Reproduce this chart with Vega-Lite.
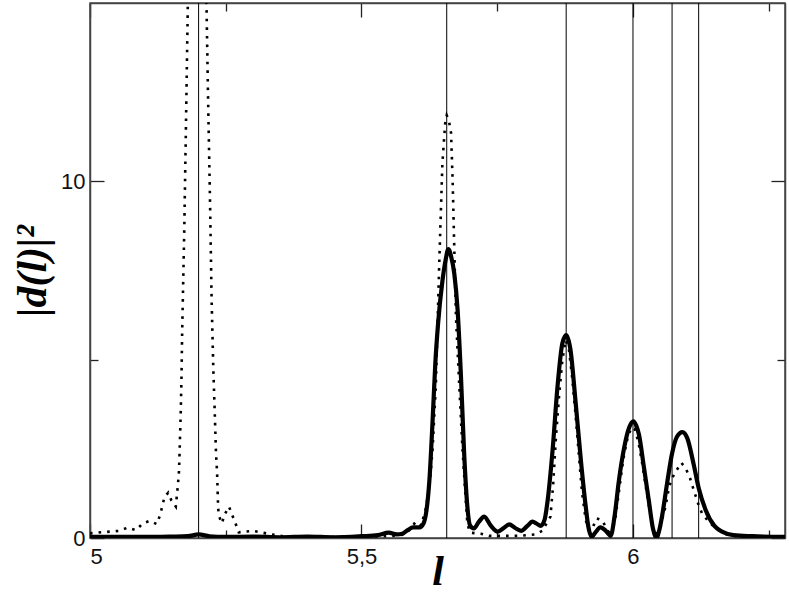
{
  "$schema": "https://vega.github.io/schema/vega-lite/v6.json",
  "width": 695,
  "height": 535,
  "autosize": {"type": "none"},
  "padding": {"left": 90, "top": 3, "right": 4, "bottom": 65},
  "background": "white",
  "config": {
    "view": {"stroke": "#444", "strokeWidth": 1.5},
    "axis": {
      "grid": false,
      "domainColor": "#444",
      "domainWidth": 1.5,
      "tickColor": "#222",
      "tickWidth": 1.3,
      "labelFont": "Liberation Sans",
      "labelFontSize": 22,
      "labelColor": "#111",
      "titleFont": "Liberation Serif",
      "titleFontStyle": "italic",
      "titleFontWeight": "bold",
      "titleColor": "#000"
    }
  },
  "datasets": {
    "solid": [
      {"l": 5.0, "v": 0.03}, {"l": 5.05, "v": 0.03}, {"l": 5.1, "v": 0.03}, {"l": 5.15, "v": 0.04},
      {"l": 5.18, "v": 0.05}, {"l": 5.2, "v": 0.1}, {"l": 5.22, "v": 0.05}, {"l": 5.25, "v": 0.03},
      {"l": 5.3, "v": 0.04}, {"l": 5.35, "v": 0.02}, {"l": 5.4, "v": 0.04}, {"l": 5.45, "v": 0.02},
      {"l": 5.5, "v": 0.05}, {"l": 5.53, "v": 0.08}, {"l": 5.55, "v": 0.15}, {"l": 5.565, "v": 0.1},
      {"l": 5.575, "v": 0.12}, {"l": 5.585, "v": 0.22}, {"l": 5.595, "v": 0.3}, {"l": 5.607, "v": 0.3},
      {"l": 5.614, "v": 0.4}, {"l": 5.619, "v": 0.7}, {"l": 5.625, "v": 1.6}, {"l": 5.631, "v": 3.3},
      {"l": 5.636, "v": 4.9}, {"l": 5.641, "v": 6.0}, {"l": 5.649, "v": 7.2}, {"l": 5.655, "v": 7.8},
      {"l": 5.66, "v": 8.1}, {"l": 5.665, "v": 7.9}, {"l": 5.671, "v": 7.4}, {"l": 5.677, "v": 6.4},
      {"l": 5.683, "v": 4.6}, {"l": 5.689, "v": 2.4}, {"l": 5.695, "v": 0.88}, {"l": 5.70, "v": 0.35},
      {"l": 5.707, "v": 0.27}, {"l": 5.716, "v": 0.45}, {"l": 5.726, "v": 0.6}, {"l": 5.738, "v": 0.35},
      {"l": 5.751, "v": 0.18}, {"l": 5.762, "v": 0.28}, {"l": 5.772, "v": 0.38}, {"l": 5.783, "v": 0.28},
      {"l": 5.794, "v": 0.2}, {"l": 5.805, "v": 0.33}, {"l": 5.815, "v": 0.46}, {"l": 5.823, "v": 0.4},
      {"l": 5.83, "v": 0.34}, {"l": 5.837, "v": 0.5}, {"l": 5.843, "v": 1.07}, {"l": 5.852, "v": 2.47},
      {"l": 5.861, "v": 4.24}, {"l": 5.87, "v": 5.46}, {"l": 5.877, "v": 5.69}, {"l": 5.885, "v": 5.27},
      {"l": 5.894, "v": 3.87}, {"l": 5.904, "v": 2.19}, {"l": 5.913, "v": 0.88}, {"l": 5.918, "v": 0.3},
      {"l": 5.924, "v": 0.04}, {"l": 5.932, "v": 0.18}, {"l": 5.94, "v": 0.3}, {"l": 5.95, "v": 0.2},
      {"l": 5.959, "v": 0.06}, {"l": 5.966, "v": 0.6}, {"l": 5.974, "v": 1.6}, {"l": 5.983, "v": 2.47},
      {"l": 5.993, "v": 3.1}, {"l": 6.001, "v": 3.27}, {"l": 6.006, "v": 3.15}, {"l": 6.011, "v": 2.9},
      {"l": 6.02, "v": 2.0}, {"l": 6.029, "v": 1.07}, {"l": 6.037, "v": 0.25}, {"l": 6.043, "v": 0.0},
      {"l": 6.049, "v": 0.25}, {"l": 6.054, "v": 0.65}, {"l": 6.063, "v": 1.55}, {"l": 6.072, "v": 2.37},
      {"l": 6.081, "v": 2.84}, {"l": 6.091, "v": 2.97}, {"l": 6.1, "v": 2.8}, {"l": 6.112, "v": 2.05},
      {"l": 6.121, "v": 1.4}, {"l": 6.134, "v": 0.78}, {"l": 6.15, "v": 0.34}, {"l": 6.165, "v": 0.17},
      {"l": 6.185, "v": 0.08}, {"l": 6.22, "v": 0.05}, {"l": 6.28, "v": 0.03}
    ],
    "dotted": [
      {"l": 5.0, "v": 0.13}, {"l": 5.021, "v": 0.16}, {"l": 5.038, "v": 0.18}, {"l": 5.054, "v": 0.2},
      {"l": 5.069, "v": 0.29}, {"l": 5.085, "v": 0.22}, {"l": 5.097, "v": 0.41}, {"l": 5.11, "v": 0.48},
      {"l": 5.123, "v": 0.39}, {"l": 5.129, "v": 0.64}, {"l": 5.133, "v": 0.88}, {"l": 5.137, "v": 1.14},
      {"l": 5.144, "v": 1.27}, {"l": 5.15, "v": 1.05}, {"l": 5.158, "v": 0.88}, {"l": 5.16, "v": 1.2},
      {"l": 5.162, "v": 1.5}, {"l": 5.164, "v": 1.9}, {"l": 5.165, "v": 2.42}, {"l": 5.167, "v": 3.45},
      {"l": 5.1685, "v": 4.5}, {"l": 5.1697, "v": 5.74}, {"l": 5.1735, "v": 8.55}, {"l": 5.1765, "v": 11.35},
      {"l": 5.18, "v": 14.8}, {"l": 5.183, "v": 18}, {"l": 5.197, "v": 30}, {"l": 5.212, "v": 18},
      {"l": 5.2145, "v": 15}, {"l": 5.2175, "v": 12.28}, {"l": 5.221, "v": 9.48}, {"l": 5.224, "v": 6.67},
      {"l": 5.227, "v": 4.8}, {"l": 5.23, "v": 3.4}, {"l": 5.232, "v": 2.4}, {"l": 5.234, "v": 1.86},
      {"l": 5.235, "v": 1.35}, {"l": 5.236, "v": 0.83}, {"l": 5.238, "v": 0.6}, {"l": 5.243, "v": 0.41},
      {"l": 5.248, "v": 0.66}, {"l": 5.256, "v": 0.88}, {"l": 5.262, "v": 0.64}, {"l": 5.268, "v": 0.41},
      {"l": 5.274, "v": 0.16}, {"l": 5.287, "v": 0.18}, {"l": 5.301, "v": 0.2}, {"l": 5.331, "v": 0.11},
      {"l": 5.36, "v": 0.04}, {"l": 5.4, "v": 0.03}, {"l": 5.45, "v": 0.03}, {"l": 5.5, "v": 0.04},
      {"l": 5.55, "v": 0.05}, {"l": 5.57, "v": 0.08}, {"l": 5.58, "v": 0.1}, {"l": 5.59, "v": 0.25},
      {"l": 5.6, "v": 0.46}, {"l": 5.61, "v": 0.35}, {"l": 5.618, "v": 0.8}, {"l": 5.625, "v": 1.4},
      {"l": 5.631, "v": 2.5}, {"l": 5.637, "v": 4.3}, {"l": 5.643, "v": 7.6}, {"l": 5.649, "v": 10.5},
      {"l": 5.654, "v": 11.6}, {"l": 5.657, "v": 11.85}, {"l": 5.661, "v": 11.7}, {"l": 5.665, "v": 11.35},
      {"l": 5.668, "v": 9.95}, {"l": 5.671, "v": 8.07}, {"l": 5.674, "v": 6.2}, {"l": 5.68, "v": 4.3},
      {"l": 5.686, "v": 2.5}, {"l": 5.692, "v": 1.07}, {"l": 5.695, "v": 0.4}, {"l": 5.7, "v": 0.15},
      {"l": 5.72, "v": 0.12}, {"l": 5.735, "v": 0.06}, {"l": 5.76, "v": 0.06}, {"l": 5.79, "v": 0.06},
      {"l": 5.82, "v": 0.1}, {"l": 5.833, "v": 0.2}, {"l": 5.839, "v": 0.36}, {"l": 5.848, "v": 0.6},
      {"l": 5.853, "v": 1.5}, {"l": 5.858, "v": 2.8}, {"l": 5.864, "v": 4.0}, {"l": 5.87, "v": 5.0},
      {"l": 5.876, "v": 5.55}, {"l": 5.882, "v": 5.3}, {"l": 5.888, "v": 4.5}, {"l": 5.894, "v": 3.5},
      {"l": 5.9, "v": 2.4}, {"l": 5.906, "v": 1.3}, {"l": 5.913, "v": 0.5}, {"l": 5.92, "v": 0.2},
      {"l": 5.926, "v": 0.3}, {"l": 5.933, "v": 0.55}, {"l": 5.943, "v": 0.5}, {"l": 5.952, "v": 0.25},
      {"l": 5.96, "v": 0.05}, {"l": 5.968, "v": 0.6}, {"l": 5.975, "v": 1.4}, {"l": 5.982, "v": 2.2},
      {"l": 5.99, "v": 2.8}, {"l": 5.997, "v": 3.1}, {"l": 6.003, "v": 3.05}, {"l": 6.01, "v": 2.7},
      {"l": 6.018, "v": 2.0}, {"l": 6.026, "v": 1.2}, {"l": 6.034, "v": 0.5}, {"l": 6.041, "v": 0.05},
      {"l": 6.05, "v": 0.3}, {"l": 6.06, "v": 0.88}, {"l": 6.066, "v": 1.4}, {"l": 6.072, "v": 1.68},
      {"l": 6.08, "v": 1.89}, {"l": 6.089, "v": 2.11}, {"l": 6.097, "v": 1.96}, {"l": 6.105, "v": 1.68},
      {"l": 6.115, "v": 1.2}, {"l": 6.121, "v": 0.92}, {"l": 6.127, "v": 0.7}, {"l": 6.137, "v": 0.5},
      {"l": 6.149, "v": 0.32}, {"l": 6.161, "v": 0.18}, {"l": 6.176, "v": 0.08}, {"l": 6.2, "v": 0.03},
      {"l": 6.28, "v": 0.02}
    ],
    "levels": [
      {"l": 5.2}, {"l": 5.657}, {"l": 5.877}, {"l": 6.0}, {"l": 6.072}, {"l": 6.121}
    ]
  },
  "resolve": {"axis": {"x": "independent", "y": "independent"}},
  "layer": [
    {
      "data": {"name": "levels"},
      "mark": {"type": "rule", "color": "#000", "strokeWidth": 1},
      "encoding": {
        "x": {"field": "l", "type": "quantitative", "scale": {"domain": [5, 6.28], "nice": false, "zero": false}, "axis": null}
      }
    },
    {
      "data": {"name": "dotted"},
      "mark": {"type": "line", "color": "#000", "strokeWidth": 2.6, "strokeDash": [2.6, 6], "clip": true, "interpolate": "linear"},
      "encoding": {
        "x": {
          "field": "l", "type": "quantitative",
          "scale": {"domain": [5, 6.28], "nice": false, "zero": false},
          "axis": {
            "orient": "top", "labels": false, "title": null,
            "values": [5, 5.25, 5.5, 5.75, 6, 6.25],
            "tickSize": {"condition": {"test": "abs(datum.value*2 - round(datum.value*2)) < 0.001", "value": -14}, "value": -8}
          }
        },
        "y": {
          "field": "v", "type": "quantitative",
          "scale": {"domain": [0, 15], "nice": false},
          "axis": {
            "orient": "right", "labels": false, "title": null,
            "values": [0, 5, 10],
            "tickSize": {"condition": {"test": "datum.value % 10 == 0", "value": -14}, "value": -8}
          }
        }
      }
    },
    {
      "data": {"name": "solid"},
      "mark": {"type": "line", "color": "#000", "strokeWidth": 4.2, "clip": true, "interpolate": "monotone"},
      "encoding": {
        "x": {
          "field": "l", "type": "quantitative",
          "scale": {"domain": [5, 6.28], "nice": false, "zero": false},
          "axis": {
            "orient": "bottom", "title": "l", "titleFontSize": 42, "titlePadding": -16,
            "values": [5, 5.25, 5.5, 5.75, 6, 6.25],
            "labelPadding": 22, "labelFontSize": 22,
            "labelExpr": "abs(datum.value*2 - round(datum.value*2)) < 0.001 ? replace(format(datum.value, '~g'), '.', ',') : ''",
            "tickSize": {"condition": {"test": "abs(datum.value*2 - round(datum.value*2)) < 0.001", "value": -14}, "value": -8}
          }
        },
        "y": {
          "field": "v", "type": "quantitative",
          "scale": {"domain": [0, 15], "nice": false},
          "axis": {
            "orient": "left", "title": "|d(l)|²", "titleFontSize": 42, "titlePadding": 6,
            "values": [0, 5, 10],
            "labelPadding": 19, "labelFontSize": 22,
            "labelExpr": "datum.value % 10 == 0 ? datum.label : ''",
            "tickSize": {"condition": {"test": "datum.value % 10 == 0", "value": -14}, "value": -8}
          }
        }
      }
    }
  ]
}
